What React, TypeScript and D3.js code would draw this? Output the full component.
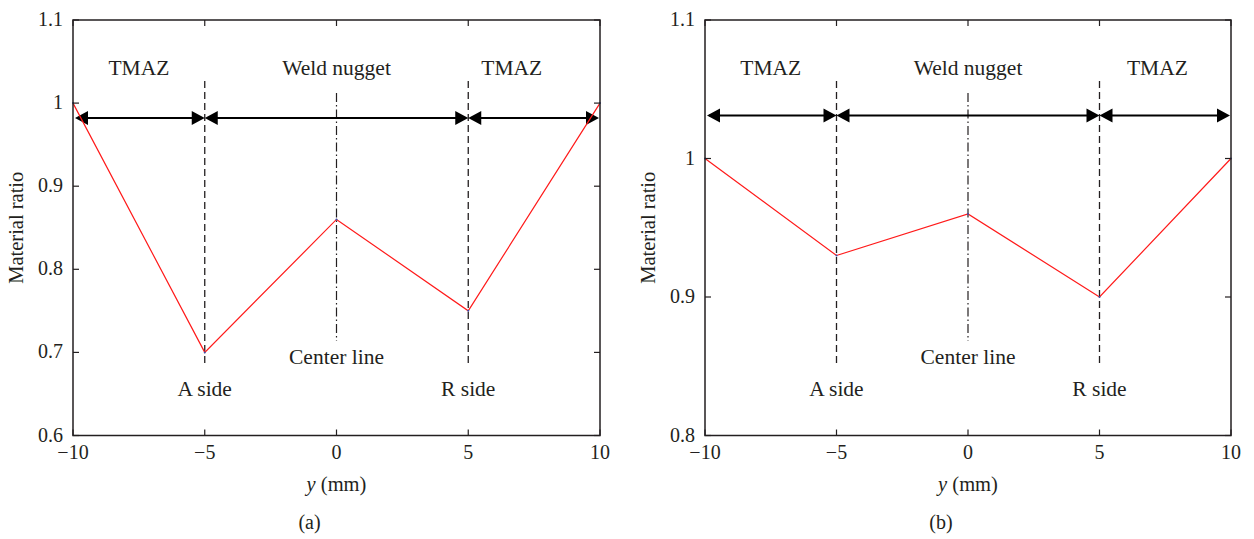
import * as d3 from "d3";

const xValues = [-10, -5, 0, 5, 10];
const ratioA = [1.0, 0.7, 0.86, 0.75, 1.0];
const ratioB = [1.0, 0.93, 0.96, 0.9, 1.0];
const xTicks = [-10, -5, 0, 5, 10];
const yTicksA = [0.6, 0.7, 0.8, 0.9, 1, 1.1];
const yTicksB = [0.8, 0.9, 1, 1.1];
const zoneBounds = [-10, -5, 5, 10];
const zoneLabels = ["TMAZ", "Weld nugget", "TMAZ"];
const zoneLabelXA = [-7.5, 0, 6.65];
const zoneLabelXB = [-7.5, 0, 7.2];
const sideLabels = ["A side", "Center line", "R side"];
const sideLabelX = [-5, 0, 5];

const W = 1254;
const H = 539;
const INK = "#231f20";
const FONT = "'Liberation Serif', 'DejaVu Serif', serif";

const fmt = (v: number) => String(+v.toFixed(2)).replace("-", "\u2212");

interface PanelProps {
  left: number;
  right: number;
  yDomain: [number, number];
  yTicks: number[];
  ratio: number[];
  arrowLevel: number;
  zoneLabelX: number[];
  caption: string;
}

function Panel({ left, right, yDomain, yTicks, ratio, arrowLevel, zoneLabelX, caption }: PanelProps) {
  const top = 20;
  const bottom = 435.5;
  const x = d3.scaleLinear().domain([-10, 10]).range([left, right]);
  const y = d3.scaleLinear().domain(yDomain).range([bottom, top]);
  const tick = 6;

  const line = d3
    .line<number>()
    .x((_, i) => x(xValues[i]))
    .y((d) => y(d));

  const ay = y(arrowLevel);
  const headLen = 13;
  const headHalf = 7;
  const arrows: string[] = [];
  for (let i = 0; i < zoneBounds.length - 1; i++) {
    const x0 = x(zoneBounds[i]) + (i === 0 ? 2 : 0);
    const x1 = x(zoneBounds[i + 1]) - (i === zoneBounds.length - 2 ? 1 : 0);
    arrows.push(
      `M${x0},${ay}L${x0 + headLen},${ay - headHalf}L${x0 + headLen},${ay + headHalf}Z` +
        `M${x1},${ay}L${x1 - headLen},${ay - headHalf}L${x1 - headLen},${ay + headHalf}Z`
    );
  }

  const cx = (left + right) / 2;

  return (
    <g fontFamily={FONT} fill={INK}>
      {/* reference lines */}
      {[-5, 5].map((v) => (
        <line
          key={v}
          x1={x(v)}
          x2={x(v)}
          y1={81}
          y2={365}
          stroke={INK}
          strokeWidth={1.3}
          strokeDasharray="7,4"
        />
      ))}
      <line
        x1={x(0)}
        x2={x(0)}
        y1={93}
        y2={341}
        stroke={INK}
        strokeWidth={1.2}
        strokeDasharray="9,3,1.5,3"
      />

      {/* zone arrows */}
      {zoneBounds.slice(0, -1).map((v, i) => (
        <line
          key={v}
          x1={x(v) + 4}
          x2={x(zoneBounds[i + 1]) - 4}
          y1={ay}
          y2={ay}
          stroke="#000"
          strokeWidth={2}
        />
      ))}
      {arrows.map((d, i) => (
        <path key={i} d={d} fill="#000" />
      ))}

      {/* data */}
      <path d={line(ratio) ?? ""} fill="none" stroke="#ff1a1a" strokeWidth={1.2} />
      {ratio.map((d, i) => (
        <circle key={i} cx={x(xValues[i])} cy={y(d)} r={1} fill="#3050b0" />
      ))}

      {/* frame */}
      <rect
        x={left}
        y={top}
        width={right - left}
        height={bottom - top}
        fill="none"
        stroke={INK}
        strokeWidth={1.5}
      />
      {xTicks.map((t) => (
        <g key={t}>
          <line x1={x(t)} x2={x(t)} y1={bottom} y2={bottom - tick} stroke={INK} strokeWidth={1.2} />
          <line x1={x(t)} x2={x(t)} y1={top} y2={top + tick} stroke={INK} strokeWidth={1.2} />
          <text x={x(t)} y={459} fontSize={20} textAnchor="middle">
            {fmt(t)}
          </text>
        </g>
      ))}
      {yTicks.map((t) => (
        <g key={t}>
          <line x1={left} x2={left + tick} y1={y(t)} y2={y(t)} stroke={INK} strokeWidth={1.2} />
          <line x1={right} x2={right - tick} y1={y(t)} y2={y(t)} stroke={INK} strokeWidth={1.2} />
          <text x={left - 10} y={y(t) + 6} fontSize={20} textAnchor="end">
            {fmt(t)}
          </text>
        </g>
      ))}

      {/* annotations */}
      {zoneLabels.map((s, i) => (
        <text key={i} x={x(zoneLabelX[i])} y={75} fontSize={21.5} textAnchor="middle">
          {s}
        </text>
      ))}
      {sideLabels.map((s, i) => (
        <text
          key={i}
          x={x(sideLabelX[i])}
          y={i === 1 ? 364 : 396}
          fontSize={21.5}
          textAnchor="middle"
        >
          {s}
        </text>
      ))}

      {/* axis titles */}
      <text
        transform={`translate(${left - 50},${(top + bottom) / 2}) rotate(-90)`}
        fontSize={20.5}
        textAnchor="middle"
      >
        Material ratio
      </text>
      <text x={cx} y={491} fontSize={20.5} textAnchor="middle">
        <tspan fontStyle="italic">y</tspan> (mm)
      </text>
      <text x={cx - 27} y={529} fontSize={20} textAnchor="middle">
        {caption}
      </text>
    </g>
  );
}

export default function App() {
  return (
    <div style={{ position: "absolute", left: 0, top: 0 }}>
      <svg width={W} height={H} style={{ display: "block", background: "#fff" }}>
        <Panel
          left={73}
          right={600}
          yDomain={[0.6, 1.1]}
          yTicks={yTicksA}
          ratio={ratioA}
          arrowLevel={0.982}
          zoneLabelX={zoneLabelXA}
          caption="(a)"
        />
        <Panel
          left={705}
          right={1231}
          yDomain={[0.8, 1.1]}
          yTicks={yTicksB}
          ratio={ratioB}
          arrowLevel={1.031}
          zoneLabelX={zoneLabelXB}
          caption="(b)"
        />
      </svg>
    </div>
  );
}
